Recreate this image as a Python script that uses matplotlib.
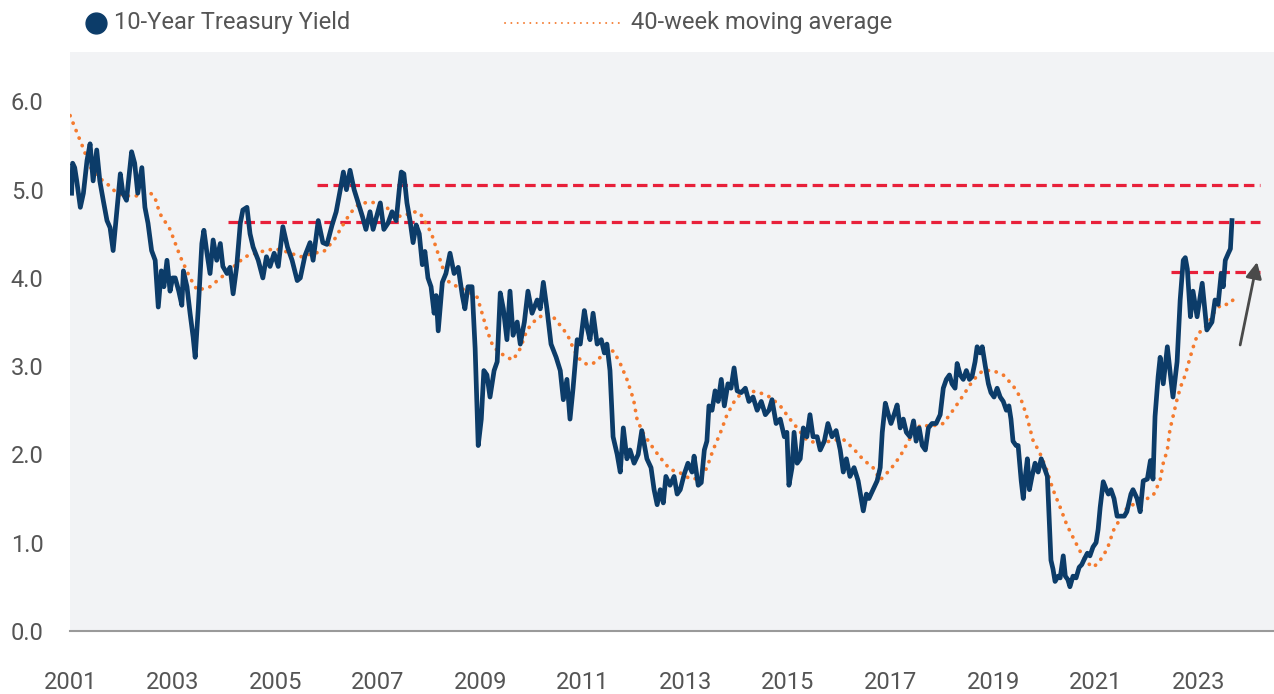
import matplotlib
matplotlib.use('Agg')
import matplotlib.pyplot as plt
from matplotlib.lines import Line2D

plt.rcParams['font.family'] = ['Roboto', 'DejaVu Sans']

# 10-year yield (decimal year, percent)
yield_dates = [
    2001.03, 2001.05, 2001.09, 2001.13, 2001.2, 2001.26, 2001.33, 2001.39, 2001.45, 2001.52,
    2001.58, 2001.65, 2001.72, 2001.78, 2001.84, 2001.92, 2001.98, 2002.03, 2002.1, 2002.2,
    2002.26, 2002.32, 2002.4, 2002.46, 2002.52, 2002.59, 2002.66, 2002.72, 2002.78, 2002.83,
    2002.89, 2002.95, 2003.0, 2003.05, 2003.12, 2003.18, 2003.21, 2003.28, 2003.34, 2003.4,
    2003.44, 2003.5, 2003.57, 2003.61, 2003.67, 2003.73, 2003.79, 2003.86, 2003.93, 2003.98,
    2004.06, 2004.12, 2004.18, 2004.25, 2004.32, 2004.37, 2004.45, 2004.51, 2004.57, 2004.67,
    2004.76, 2004.83, 2004.9, 2004.98, 2005.06, 2005.15, 2005.24, 2005.33, 2005.43, 2005.49,
    2005.58, 2005.68, 2005.74, 2005.84, 2005.93, 2006.01, 2006.11, 2006.19, 2006.27, 2006.33,
    2006.39, 2006.46, 2006.54, 2006.62, 2006.7, 2006.77, 2006.85, 2006.91, 2006.99, 2007.05,
    2007.12, 2007.2, 2007.28, 2007.36, 2007.42, 2007.46, 2007.51, 2007.57, 2007.63, 2007.69,
    2007.75, 2007.81, 2007.87, 2007.92, 2007.98, 2008.04, 2008.1, 2008.14, 2008.18, 2008.26,
    2008.33, 2008.41, 2008.49, 2008.57, 2008.65, 2008.7, 2008.76, 2008.84, 2008.9, 2008.96,
    2009.02, 2009.07, 2009.13, 2009.19, 2009.27, 2009.33, 2009.39, 2009.45, 2009.52, 2009.58,
    2009.64, 2009.72, 2009.78, 2009.86, 2009.93, 2010.01, 2010.11, 2010.17, 2010.23, 2010.3,
    2010.38, 2010.48, 2010.56, 2010.62, 2010.69, 2010.75, 2010.81, 2010.89, 2010.95, 2011.03,
    2011.08, 2011.14, 2011.2, 2011.28, 2011.36, 2011.42, 2011.47, 2011.53, 2011.59, 2011.67,
    2011.73, 2011.79, 2011.86, 2011.92, 2012.0, 2012.08, 2012.15, 2012.25, 2012.33, 2012.39,
    2012.45, 2012.51, 2012.57, 2012.62, 2012.7, 2012.78, 2012.84, 2012.9, 2012.98, 2013.05,
    2013.13, 2013.17, 2013.25, 2013.31, 2013.37, 2013.42, 2013.46, 2013.52, 2013.58, 2013.64,
    2013.7, 2013.76, 2013.83, 2013.89, 2013.95, 2014.01, 2014.09, 2014.17, 2014.24, 2014.32,
    2014.4, 2014.48, 2014.56, 2014.63, 2014.69, 2014.77, 2014.85, 2014.93, 2014.98, 2015.02,
    2015.08, 2015.12, 2015.18, 2015.24, 2015.3, 2015.37, 2015.43, 2015.49, 2015.57, 2015.63,
    2015.71, 2015.78, 2015.86, 2015.94, 2016.02, 2016.08, 2016.14, 2016.21, 2016.29, 2016.37,
    2016.43, 2016.47, 2016.53, 2016.58, 2016.66, 2016.74, 2016.8, 2016.84, 2016.9, 2016.96,
    2017.01, 2017.07, 2017.13, 2017.19, 2017.25, 2017.31, 2017.38, 2017.45, 2017.5, 2017.56,
    2017.62, 2017.68, 2017.74, 2017.81, 2017.89, 2017.97, 2018.03, 2018.09, 2018.15, 2018.2,
    2018.26, 2018.3, 2018.36, 2018.42, 2018.48, 2018.54, 2018.59, 2018.65, 2018.69, 2018.75,
    2018.79, 2018.85, 2018.91, 2018.96, 2019.02, 2019.08, 2019.14, 2019.2, 2019.26, 2019.31,
    2019.35, 2019.39, 2019.45, 2019.49, 2019.55, 2019.59, 2019.63, 2019.67, 2019.71, 2019.76,
    2019.82, 2019.88, 2019.94, 2020.0, 2020.06, 2020.1, 2020.13, 2020.17, 2020.21, 2020.27,
    2020.31, 2020.37, 2020.41, 2020.46, 2020.5, 2020.56, 2020.62, 2020.68, 2020.73, 2020.77,
    2020.84, 2020.89, 2020.95, 2021.01, 2021.05, 2021.09, 2021.15, 2021.21, 2021.25, 2021.3,
    2021.36, 2021.42, 2021.48, 2021.56, 2021.61, 2021.69, 2021.73, 2021.81, 2021.87, 2021.93,
    2022.01, 2022.07, 2022.12, 2022.16, 2022.22, 2022.26, 2022.32, 2022.4, 2022.46, 2022.51,
    2022.59, 2022.65, 2022.71, 2022.75, 2022.79, 2022.85, 2022.9, 2022.98, 2023.08, 2023.17,
    2023.27, 2023.33, 2023.39, 2023.45, 2023.49, 2023.53, 2023.59, 2023.63, 2023.66,
]
yield_vals = [
    4.96, 5.3, 5.25, 5.1, 4.8, 4.96, 5.33, 5.52, 5.1, 5.45,
    5.1, 4.87, 4.65, 4.57, 4.31, 4.8, 5.18, 4.96, 4.88, 5.43,
    5.3, 4.96, 5.25, 4.8, 4.62, 4.31, 4.2, 3.67, 4.08, 3.9,
    4.2, 3.85, 4.0, 4.0, 3.85, 3.69, 4.08, 3.9, 3.6, 3.33,
    3.1, 3.65, 4.39, 4.54, 4.28, 4.05, 4.43, 4.2, 4.39, 4.13,
    4.05, 4.12, 3.82, 4.13, 4.62, 4.77, 4.8, 4.5, 4.35, 4.2,
    4.0, 4.24, 4.13, 4.28, 4.13, 4.58, 4.35, 4.2, 3.97, 4.0,
    4.25, 4.4, 4.2, 4.65, 4.4, 4.38, 4.6, 4.75, 5.0, 5.2,
    5.0, 5.22, 5.0, 4.85, 4.7, 4.55, 4.75, 4.55, 4.72, 4.85,
    4.55, 4.62, 4.75, 4.65, 5.0, 5.2, 5.18, 4.85, 4.65, 4.4,
    4.6, 4.5, 4.15, 4.3, 4.0, 3.9, 3.6, 3.8, 3.4, 3.95,
    4.05, 4.28, 4.05, 4.12, 3.8, 3.65, 3.9, 3.9, 3.2, 2.1,
    2.4, 2.95, 2.9, 2.65, 2.95, 3.05, 3.83, 3.65, 3.3, 3.85,
    3.35, 3.5, 3.25, 3.5, 3.85, 3.6, 3.75, 3.65, 3.95, 3.65,
    3.25, 3.1, 2.95, 2.62, 2.85, 2.4, 2.75, 3.3, 3.25, 3.63,
    3.45, 3.3, 3.6, 3.25, 3.3, 3.15, 3.25, 2.95, 2.2, 2.0,
    1.8, 2.3, 1.95, 2.05, 1.9, 2.0, 2.27, 1.95, 1.85, 1.6,
    1.43, 1.6, 1.45, 1.75, 1.65, 1.75, 1.55, 1.6, 1.78, 1.9,
    1.8, 1.98, 1.65, 1.68, 2.05, 2.15, 2.55, 2.5, 2.72, 2.6,
    2.85, 2.55, 2.8, 2.75, 2.98, 2.72, 2.7, 2.75, 2.6, 2.65,
    2.5, 2.6, 2.45, 2.5, 2.62, 2.35, 2.4, 2.2, 2.25, 1.65,
    1.85, 2.25, 1.9, 1.95, 2.3, 2.2, 2.45, 2.2, 2.2, 2.05,
    2.15, 2.35, 2.2, 2.27, 2.05, 1.8, 1.95, 1.75, 1.85, 1.7,
    1.5, 1.36, 1.55, 1.5, 1.6, 1.7, 1.85, 2.25, 2.58, 2.45,
    2.35, 2.45, 2.56, 2.3, 2.4, 2.25, 2.2, 2.38, 2.15, 2.3,
    2.1, 2.05, 2.3, 2.35, 2.35, 2.45, 2.75, 2.85, 2.9, 2.8,
    2.75, 3.03, 2.9, 2.85, 2.95, 2.85, 2.88, 3.05, 3.22, 3.15,
    3.22, 3.0, 2.8, 2.7, 2.65, 2.75, 2.65, 2.6, 2.5, 2.55,
    2.4, 2.15, 2.1, 2.1, 1.7, 1.5, 1.75, 1.95, 1.6, 1.75,
    1.9, 1.8, 1.95, 1.85, 1.75, 1.2, 0.8, 0.7, 0.56, 0.62,
    0.6, 0.85, 0.62, 0.58, 0.5, 0.62, 0.6, 0.72, 0.75, 0.8,
    0.88, 0.85, 0.95, 1.0, 1.15, 1.4, 1.69, 1.6, 1.55, 1.6,
    1.5, 1.3, 1.3, 1.3, 1.35, 1.55, 1.6, 1.5, 1.35, 1.7,
    1.72, 1.93, 1.72, 2.43, 2.88, 3.1, 2.8, 3.22, 2.9, 2.65,
    3.05, 3.75, 4.2, 4.23, 4.1, 3.56, 3.85, 3.56, 3.94, 3.41,
    3.5, 3.75, 3.7, 4.05, 3.9, 4.2, 4.28, 4.33, 4.65,
]

# 40-week moving average
ma_dates = [
    2001.0, 2001.25, 2001.4, 2001.6, 2001.8, 2001.92, 2002.1, 2002.4, 2002.55, 2002.65,
    2002.75, 2002.95, 2003.15, 2003.34, 2003.48, 2003.73, 2004.12, 2004.41, 2004.8, 2005.0,
    2005.2, 2005.5, 2005.75, 2005.95, 2006.15, 2006.3, 2006.46, 2006.6, 2006.8, 2007.0,
    2007.18, 2007.3, 2007.5, 2007.69, 2007.82, 2007.96, 2008.05, 2008.22, 2008.35, 2008.55,
    2008.75, 2008.94, 2009.0, 2009.13, 2009.25, 2009.39, 2009.52, 2009.64, 2009.78, 2009.91,
    2010.1, 2010.3, 2010.42, 2010.62, 2010.75, 2010.81, 2010.95, 2011.08, 2011.2, 2011.34,
    2011.47, 2011.6, 2011.73, 2011.86, 2011.99, 2012.06, 2012.18, 2012.3, 2012.5, 2012.7,
    2012.9, 2013.1, 2013.3, 2013.42, 2013.54, 2013.68, 2013.8, 2013.93, 2014.07, 2014.26,
    2014.45, 2014.65, 2014.85, 2015.04, 2015.18, 2015.37, 2015.62, 2015.88, 2016.08, 2016.27,
    2016.47, 2016.66, 2016.8, 2017.0, 2017.19, 2017.38, 2017.58, 2017.8, 2018.03, 2018.22,
    2018.42, 2018.61, 2018.8, 2019.0, 2019.2, 2019.39, 2019.53, 2019.65, 2019.78, 2019.91,
    2020.05, 2020.17, 2020.31, 2020.44, 2020.56, 2020.7, 2020.84, 2020.96, 2021.09, 2021.23,
    2021.35, 2021.48, 2021.61, 2021.73, 2021.87, 2022.01, 2022.12, 2022.2, 2022.26, 2022.32,
    2022.4, 2022.45, 2022.51, 2022.6, 2022.68, 2022.75, 2022.81, 2022.88, 2022.95, 2023.05,
    2023.2, 2023.3, 2023.45, 2023.6, 2023.68,
]
ma_vals = [
    5.84, 5.48, 5.25, 5.12, 5.03, 4.95, 4.93, 4.93, 4.97, 4.92,
    4.73, 4.55, 4.24, 4.0, 3.86, 3.9, 4.09, 4.24, 4.31, 4.33,
    4.3, 4.24, 4.28, 4.3, 4.43, 4.58, 4.73, 4.82, 4.86, 4.85,
    4.8, 4.7, 4.7, 4.75, 4.74, 4.6, 4.5, 4.2, 3.97, 3.9,
    3.85, 3.78, 3.67, 3.41, 3.22, 3.15, 3.1, 3.07, 3.2, 3.41,
    3.54, 3.6, 3.56, 3.42, 3.3, 3.2, 3.07, 3.02, 3.03, 3.1,
    3.18, 3.17, 3.03, 2.85, 2.62, 2.39, 2.24, 2.13, 1.97, 1.83,
    1.79, 1.72, 1.73, 1.85, 2.05, 2.24, 2.43, 2.58, 2.68, 2.72,
    2.7, 2.65, 2.55, 2.4, 2.3, 2.16, 2.12, 2.16, 2.17, 2.07,
    1.94, 1.85, 1.71, 1.83, 1.98, 2.18, 2.33, 2.32, 2.35, 2.5,
    2.67, 2.84, 2.95, 2.95, 2.9, 2.78, 2.65, 2.45, 2.16, 2.02,
    1.82, 1.6, 1.4, 1.2, 1.06, 0.9, 0.77, 0.72, 0.8, 0.93,
    1.14, 1.27, 1.39, 1.43, 1.47, 1.5, 1.53, 1.63, 1.71, 1.9,
    2.05, 2.28, 2.43, 2.65, 2.8, 2.9, 3.03, 3.17, 3.3, 3.4,
    3.48, 3.6, 3.7, 3.7, 3.75,
]

# red dashed reference levels and where each one starts
ref_levels = [5.05, 4.63, 4.07]
ref_starts = [2005.82, 2004.08, 2022.47]
ref_end = 2024.21

year_ticks = list(range(2001, 2024, 2))
y_ticks = [0, 1, 2, 3, 4, 5, 6]

navy = '#0c3c69'
orange = '#f47a2e'
red = '#e8203a'
text_col = '#555555'

fig = plt.figure(figsize=(12.74, 6.94), dpi=100)
ax = fig.add_axes([0.055, 0.091, 0.945, 0.834])
ax.set_facecolor('#f2f3f5')

for lvl, x0 in zip(ref_levels, ref_starts):
    ax.plot([x0, ref_end], [lvl, lvl], color=red, lw=2.3,
            linestyle=(0, (3.3, 1.7)), zorder=2)

ax.plot(ma_dates, ma_vals, color=orange, lw=2.7, linestyle=(0, (0.05, 2.1)),
        dash_capstyle='round', zorder=3)
ax.plot(yield_dates, yield_vals, color=navy, lw=3.4, solid_joinstyle='round', zorder=4)

ax.annotate('', xy=(2024.15, 4.18), xytext=(2023.82, 3.24),
            arrowprops=dict(arrowstyle='-|>', color='#4a4a4a', lw=2.0,
                            mutation_scale=24, shrinkA=0, shrinkB=0), zorder=5)

ax.set_xlim(2001.0, 2024.48)
ax.set_ylim(0, 6.56)
ax.set_xticks(year_ticks)
ax.set_xticklabels([str(y) for y in year_ticks])
ax.set_yticks(y_ticks)
ax.set_yticklabels(['%.1f' % v for v in y_ticks])
ax.tick_params(axis='both', length=0, labelsize=17, colors=text_col)
ax.tick_params(axis='y', pad=19)
ax.tick_params(axis='x', pad=29)

for s in ['top', 'right', 'left']:
    ax.spines[s].set_visible(False)
ax.spines['bottom'].set_color('#9a9a9a')
ax.spines['bottom'].set_linewidth(1.5)

# legend drawn by hand along the top
fig.add_artist(Line2D([96 / 1274], [1 - 23 / 694], marker='o', markersize=15,
                      color=navy, linestyle='none', transform=fig.transFigure))
fig.text(114 / 1274, 1 - 23 / 694, '10-Year Treasury Yield', fontsize=17,
         color=text_col, va='center', ha='left')
fig.add_artist(Line2D([505 / 1274, 622 / 1274], [1 - 23 / 694, 1 - 23 / 694],
                      color=orange, lw=1.4, linestyle=(0, (0.05, 3.2)),
                      dash_capstyle='round', transform=fig.transFigure))
fig.text(631 / 1274, 1 - 23 / 694, '40-week moving average', fontsize=17,
         color=text_col, va='center', ha='left')

fig.savefig('out.png', dpi=100)
